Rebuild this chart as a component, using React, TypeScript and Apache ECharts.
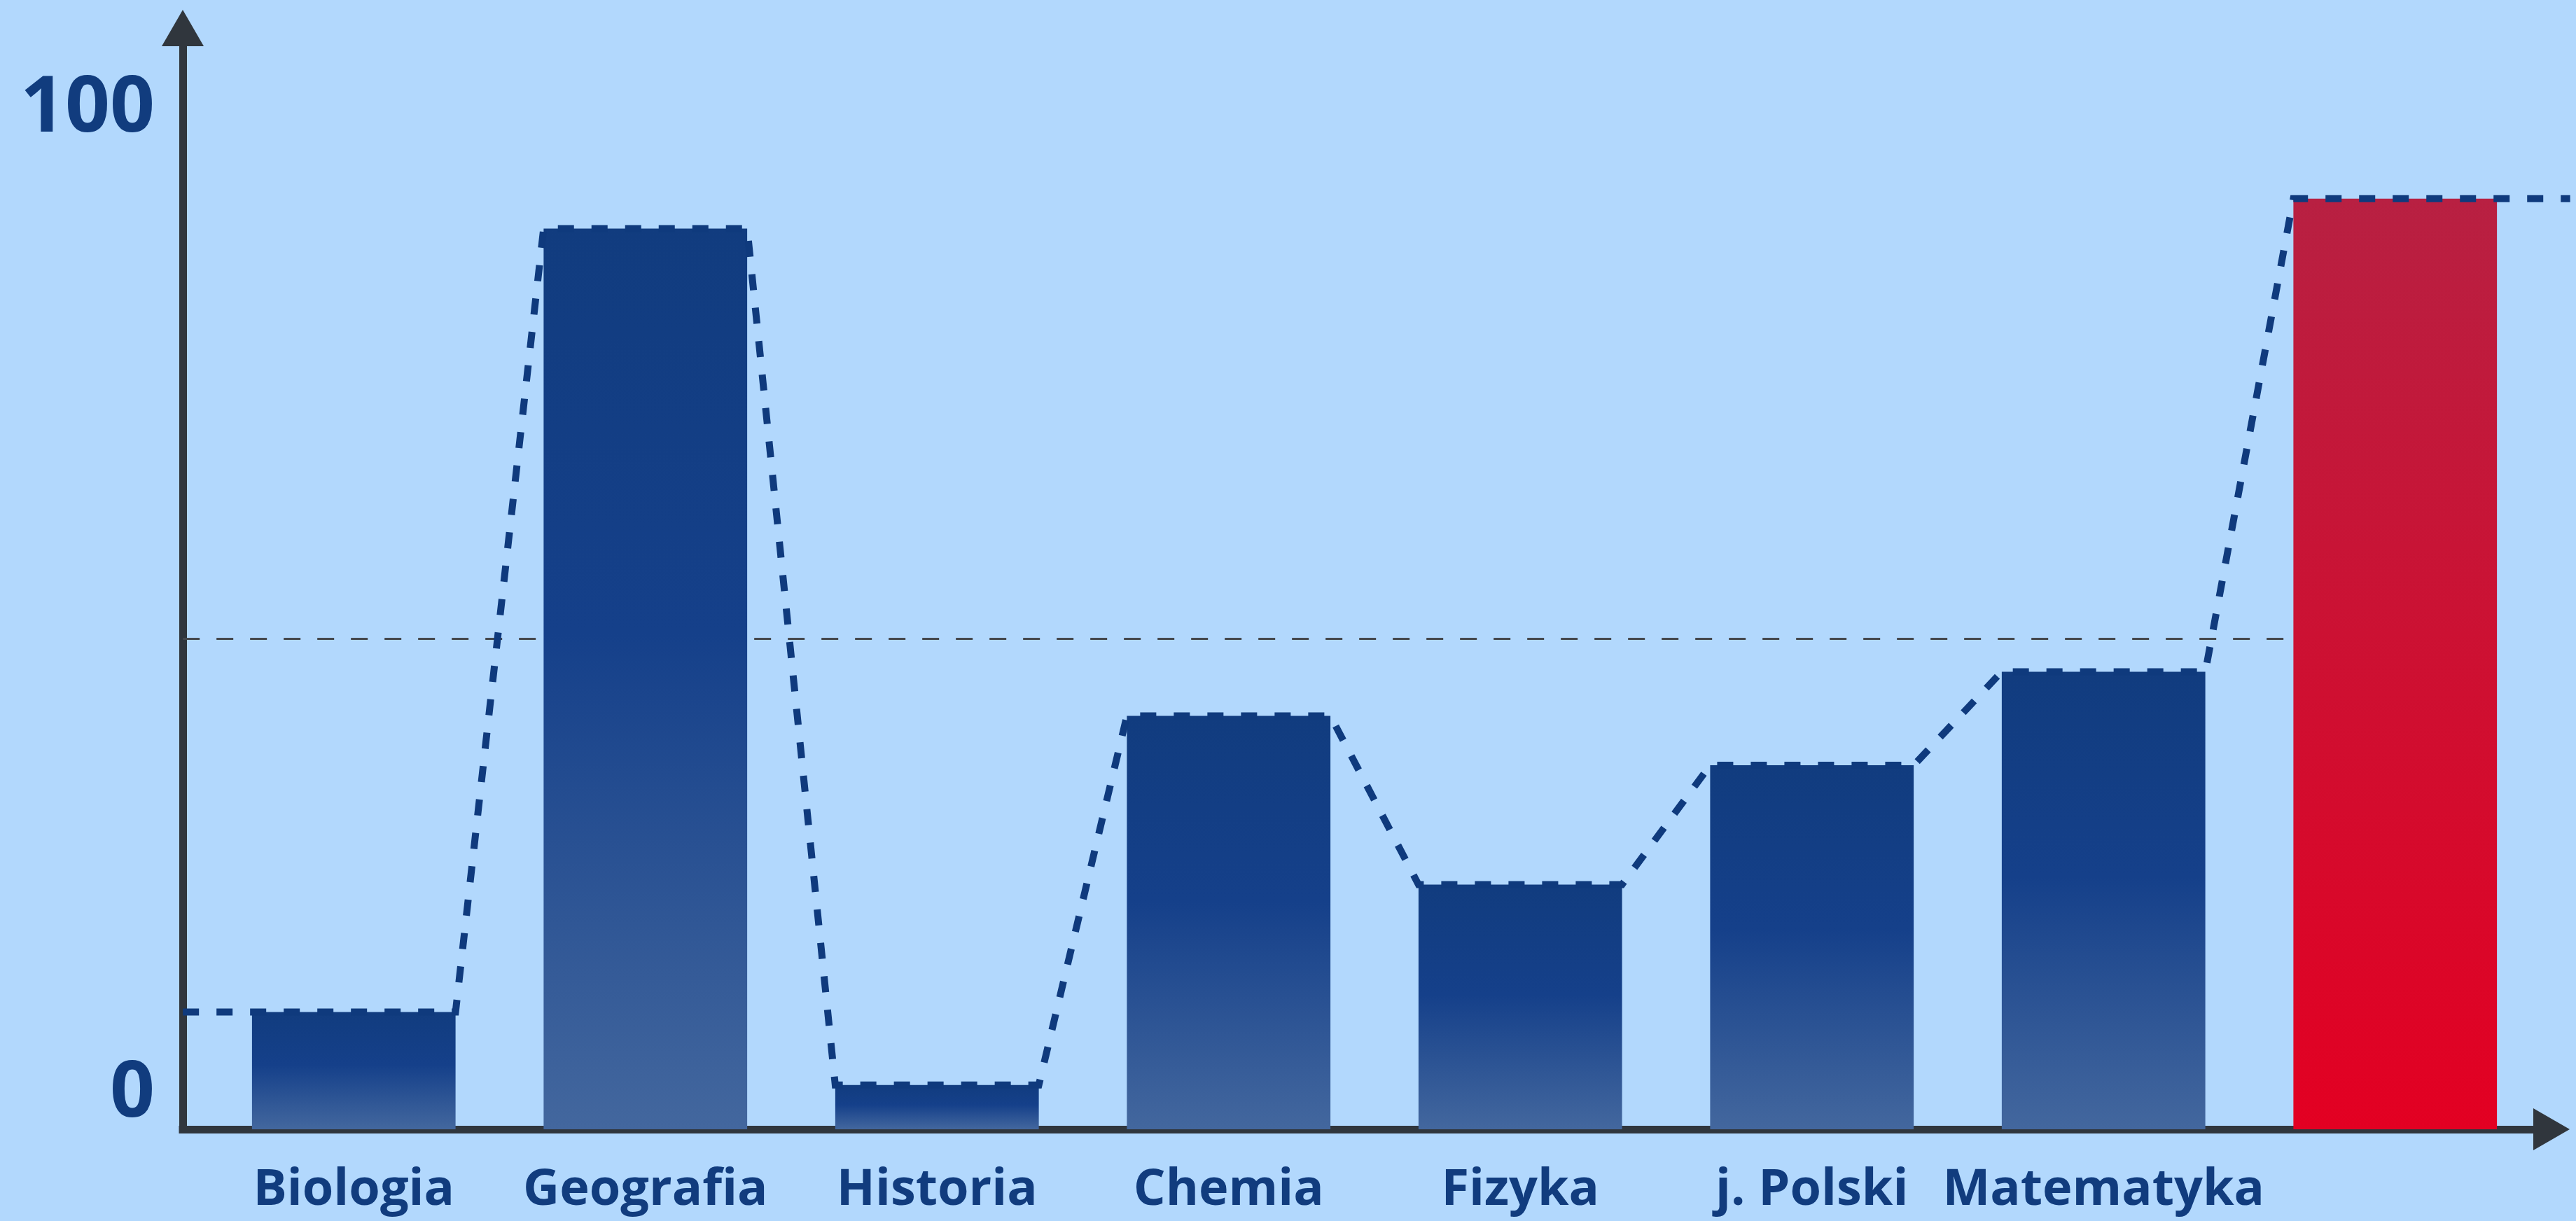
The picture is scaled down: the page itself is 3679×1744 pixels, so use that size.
import React, { useEffect, useRef } from "react";
import * as echarts from "echarts";

// ---- data ----
const categories: string[] = ["Biologia", "Geografia", "Historia", "Chemia", "Fizyka", "j. Polski", "Matematyka", ""];
const scores: number[] = [11.4, 87.6, 4.3, 40.2, 23.8, 35.4, 44.5, 90.5];
const referenceLevel = 47.7;
const yTickValues: number[] = [0, 100];
const highlightIndex = 7;

// ---- layout / style constants ----
const Y_MAX = 107.1;
const HALF_BAR = 0.349; // half of bar width, in category units
const LINE_START_X = -0.586; // where the y axis sits, in category units
const LINE_END_X = 7.6;
const NAVY = "#113c7e";
const AXIS = "#30363d";
const BG = "#b2d8fd";
const FONT = "'Open Sans', Lato, sans-serif";

export default function App() {
  const ref = useRef<HTMLDivElement>(null);

  useEffect(() => {
    if (!ref.current) return;
    const chart = echarts.init(ref.current, undefined, { renderer: "svg" });

    const navyGrad = new echarts.graphic.LinearGradient(0, 0, 0, 1, [
      { offset: 0, color: "#113c7f" },
      { offset: 0.45, color: "#15408a" },
      { offset: 1, color: "#43679e" },
    ]);
    const redGrad = new echarts.graphic.LinearGradient(0, 0, 0, 1, [
      { offset: 0, color: "#b82042" },
      { offset: 1, color: "#e30022" },
    ]);

    const barData = scores.map((v, i) => ({
      value: v,
      itemStyle: { color: i === highlightIndex ? redGrad : navyGrad },
    }));

    const stepLine: number[][] = [[LINE_START_X, scores[0]]];
    scores.forEach((v, i) => {
      stepLine.push([i - HALF_BAR, v]);
      stepLine.push([i + HALF_BAR, v]);
    });
    stepLine.push([LINE_END_X, scores[scores.length - 1]]);

    const refLine: number[][] = [
      [LINE_START_X, referenceLevel],
      [highlightIndex - HALF_BAR, referenceLevel],
    ];

    const polylineSeries = (pts: number[][], z: number, style: any) => ({
      type: "custom",
      xAxisIndex: 2,
      yAxisIndex: 1,
      data: pts,
      clip: false,
      silent: true,
      z,
      renderItem: (params: any, api: any) => {
        if (params.dataIndex !== 0) return null;
        const points = pts.map((p) => api.coord(p));
        return {
          type: "polyline",
          shape: { points },
          style: { fill: null, ...style },
        };
      },
    });

    const axisLineStyle = { color: AXIS, width: 11, cap: "square" as const };

    chart.setOption({
      animation: false,
      backgroundColor: BG,
      grid: [
        { left: 261, right: 35, top: 40, bottom: 131, containLabel: false },
        { left: 297, right: 50, top: 40, bottom: 131, containLabel: false },
      ],
      xAxis: [
        {
          type: "value",
          gridIndex: 0,
          min: 0,
          max: 1,
          axisLine: { show: true, lineStyle: axisLineStyle, symbol: ["none", "triangle"], symbolSize: [60, 52] },
          axisTick: { show: false },
          axisLabel: { show: false },
          splitLine: { show: false },
        },
        {
          type: "category",
          gridIndex: 1,
          data: categories,
          axisLine: { show: false },
          axisTick: { show: false },
          splitLine: { show: false },
          axisLabel: {
            show: true,
            interval: 0,
            margin: 44,
            color: NAVY,
            fontFamily: FONT,
            fontWeight: "bold",
            fontSize: 72,
          },
        },
        {
          type: "value",
          gridIndex: 1,
          min: -0.5,
          max: 7.5,
          show: false,
        },
      ],
      yAxis: [
        {
          type: "value",
          gridIndex: 0,
          min: 0,
          max: Y_MAX,
          interval: 100,
          axisLine: { show: true, lineStyle: axisLineStyle, symbol: ["none", "triangle"], symbolSize: [60, 52] },
          axisTick: { show: false },
          splitLine: { show: false },
          axisLabel: {
            show: true,
            margin: 40,
            formatter: (v: number) =>
              yTickValues.indexOf(v) === -1 ? "" : v === 0 ? `{z|${v}}` : `{h|${v}}`,
            rich: {
              z: {
                fontSize: 112,
                fontWeight: "bold",
                fontFamily: FONT,
                color: NAVY,
                padding: [0, 0, 124, 0],
              },
              h: {
                fontSize: 112,
                fontWeight: "bold",
                fontFamily: FONT,
                color: NAVY,
              },
            },
          },
        },
        {
          type: "value",
          gridIndex: 1,
          min: 0,
          max: Y_MAX,
          show: false,
        },
      ],
      series: [
        polylineSeries(refLine, 1, { stroke: "#45484d", lineWidth: 3, lineDash: [24, 24] }),
        {
          type: "bar",
          xAxisIndex: 1,
          yAxisIndex: 1,
          data: barData,
          barWidth: "69.8%",
          z: 2,
        },
        polylineSeries(stepLine, 3, {
          stroke: "#0f3a7d",
          lineWidth: 10,
          lineDash: [23, 25],
          lineJoin: "miter",
          lineCap: "butt",
        }),
      ],
    });

    return () => chart.dispose();
  }, []);

  return (
    <div
      ref={ref}
      style={{ position: "fixed", left: 0, top: 0, width: "100vw", height: "100vh" }}
    />
  );
}
